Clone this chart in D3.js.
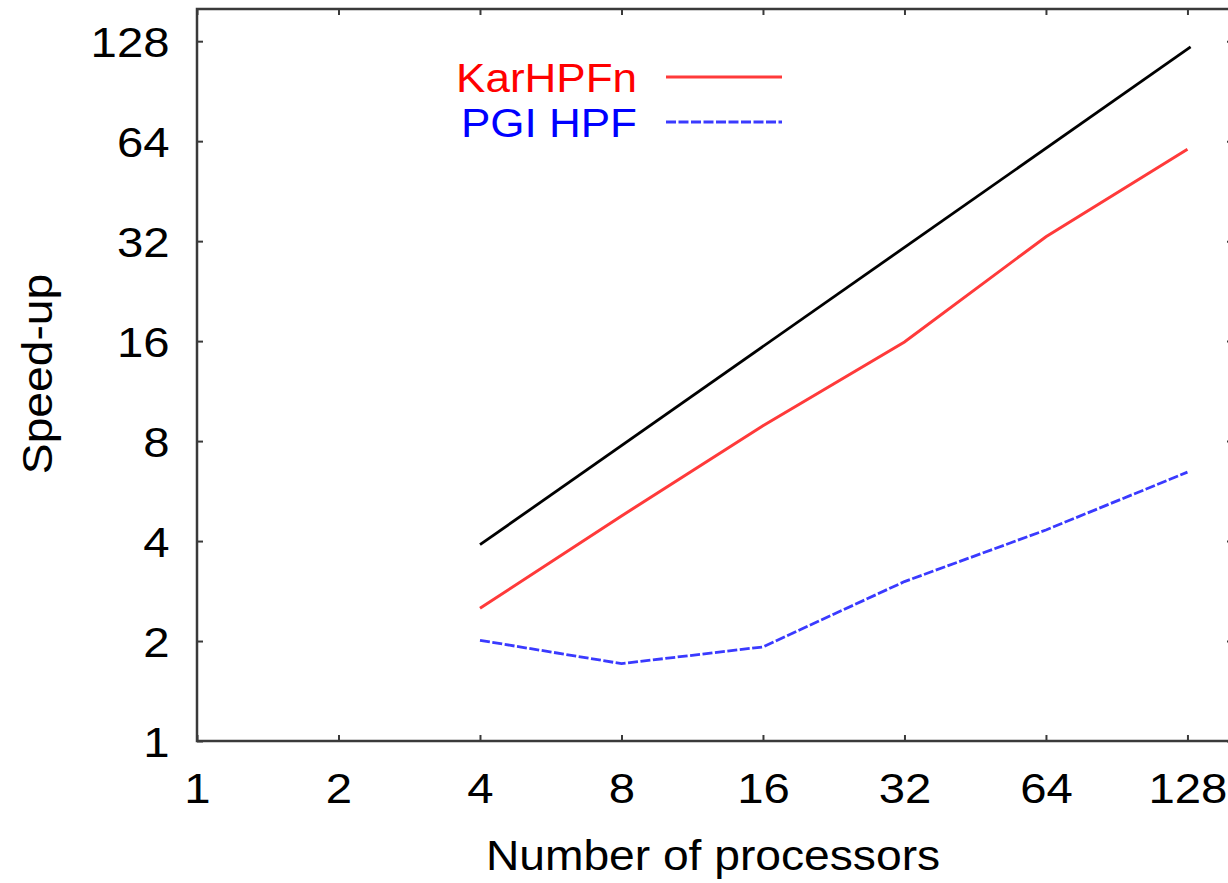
<!DOCTYPE html>
<html>
<head>
<meta charset="utf-8">
<script src="https://cdn.jsdelivr.net/npm/d3@7"></script>
<style>
  html, body { margin: 0; padding: 0; background: #fff; }
  svg { display: block; font-family: "Liberation Sans", Arial, Helvetica, sans-serif; }
</style>
</head>
<body>
<div id="chart"></div>
<script>
// processors on the x axis (log2)
var procs = [4, 8, 16, 32, 64, 128];
// speed-up values
var karhpfn = [2.51, 4.76, 8.9, 15.9, 33.0, 60.5];
var pgihpf = [2.01, 1.71, 1.92, 3.02, 4.32, 6.45];
// the ideal (linear) reference line, drawn in black
var idealX = [4, 130];
var idealY = [3.9, 123];

var tickVals = [1, 2, 4, 8, 16, 32, 64, 128];
var seriesNames = ["KarHPFn", "PGI HPF"];

var width = 1228, height = 883;
var plotL = 197, plotR = 1233, plotT = 9, plotB = 741;
var stretch = 1.1; // the original lettering is a bit wide

var svg = d3.select("#chart").append("svg")
  .attr("width", width)
  .attr("height", height);

var x = d3.scaleLog().base(2).domain([1, 160]).range([plotL, plotR]);
var y = d3.scaleLog().base(2).domain([1, 160]).range([plotB, plotT]);

var fmt = d3.format("d");

//frame
svg.append("rect")
  .attr("x", plotL).attr("y", plotT)
  .attr("width", plotR - plotL).attr("height", plotB - plotT)
  .attr("fill", "none")
  .attr("stroke", "#3a3a3a")
  .attr("stroke-width", 2.5);

function styleAxis(g) {
  g.select(".domain").remove();
  g.selectAll(".tick line").attr("stroke", "#3a3a3a").attr("stroke-width", 2);
}

// bottom axis with labels, inward ticks
var xAxis = svg.append("g")
  .attr("transform", "translate(0," + plotB + ")")
  .call(d3.axisBottom(x).tickValues(tickVals).tickFormat(fmt).tickSize(-6).tickPadding(0));
styleAxis(xAxis);
xAxis.selectAll(".tick text")
  .attr("y", 62).attr("dy", 0)
  .attr("font-size", 43)
  .attr("fill", "#000")
  .attr("transform", "scale(" + stretch + ",1)");

// top mirror ticks
var xTop = svg.append("g")
  .attr("transform", "translate(0," + plotT + ")")
  .call(d3.axisTop(x).tickValues(tickVals).tickFormat("").tickSize(-6));
styleAxis(xTop);

// left axis
var yAxis = svg.append("g")
  .attr("transform", "translate(" + plotL + ",0)")
  .call(d3.axisLeft(y).tickValues(tickVals).tickFormat(fmt).tickSize(-6).tickPadding(0));
styleAxis(yAxis);
yAxis.selectAll(".tick text")
  .attr("x", -25).attr("dy", "0.36em")
  .attr("font-size", 43)
  .attr("fill", "#000")
  .attr("transform", "scale(" + stretch + ",1)");

// right mirror ticks
var yRight = svg.append("g")
  .attr("transform", "translate(" + plotR + ",0)")
  .call(d3.axisRight(y).tickValues(tickVals).tickFormat("").tickSize(-6));
styleAxis(yRight);

// axis titles
svg.append("text")
  .attr("transform", "translate(713,870) scale(" + stretch + ",1)")
  .attr("text-anchor", "middle")
  .attr("font-size", 42)
  .text("Number of processors");

svg.append("text")
  .attr("transform", "translate(52,374) rotate(-90) scale(" + stretch + ",1)")
  .attr("text-anchor", "middle")
  .attr("font-size", 42)
  .text("Speed-up");

var line = d3.line()
  .x(function (d) { return x(d[0]); })
  .y(function (d) { return y(d[1]); });

// ideal
svg.append("path")
  .datum(d3.zip(idealX, idealY))
  .attr("d", line)
  .attr("fill", "none")
  .attr("stroke", "#000")
  .attr("stroke-width", 2.8);

svg.append("path")
  .datum(d3.zip(procs, karhpfn))
  .attr("d", line)
  .attr("fill", "none")
  .attr("stroke", "#ff3a3a")
  .attr("stroke-width", 3);

svg.append("path")
  .datum(d3.zip(procs, pgihpf))
  .attr("d", line)
  .attr("fill", "none")
  .attr("stroke", "#3a3aff")
  .attr("stroke-width", 2.8)
  .attr("stroke-dasharray", "10,2.5");

// legend
var legColors = ["#ff0000", "#0000ff"];
var legDash = [null, "10,2.5"];
var legStroke = ["#ff3a3a", "#3a3aff"];
var leg = svg.append("g");
seriesNames.forEach(function (name, i) {
  var ly = 77 + i * 45;
  leg.append("text")
    .attr("transform", "translate(637," + (ly + 15) + ") scale(" + stretch + ",1)")
    .attr("text-anchor", "end")
    .attr("font-size", 40)
    .attr("fill", legColors[i])
    .text(name);
  leg.append("line")
    .attr("x1", 666).attr("x2", 782)
    .attr("y1", ly).attr("y2", ly)
    .attr("stroke", legStroke[i])
    .attr("stroke-width", i ? 2.8 : 3)
    .attr("stroke-dasharray", legDash[i]);
});
</script>
</body>
</html>
